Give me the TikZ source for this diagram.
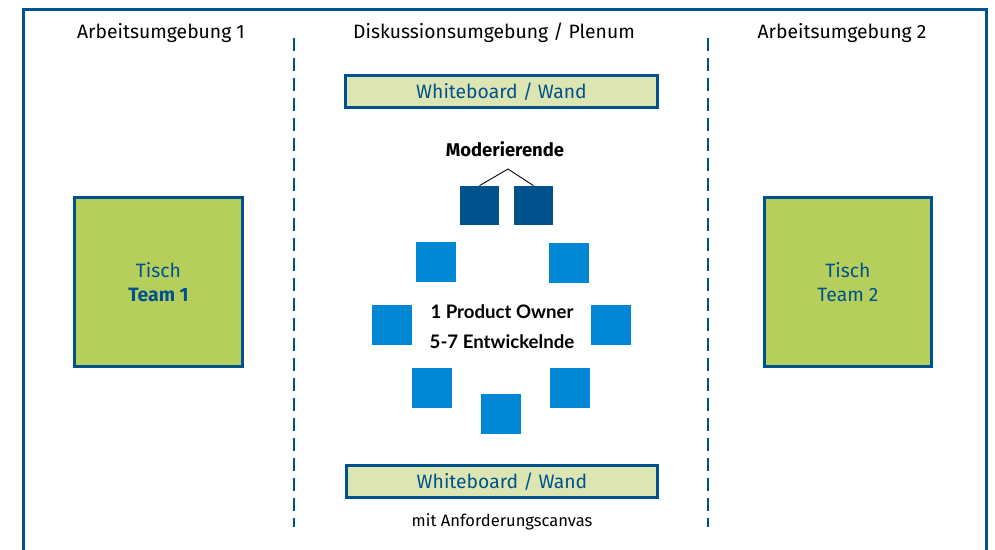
\documentclass[tikz,border=0pt]{standalone}
\usepackage{fontspec}
\setmainfont{Fira Sans}
\newfontfamily\roundfont{Lato}
\usetikzlibrary{positioning}

\definecolor{frameblue}{HTML}{00528C}
\definecolor{tablegreen}{HTML}{B6CE5B}
\definecolor{boardgreen}{HTML}{DDE6B3}
\definecolor{modblue}{HTML}{00528C}
\definecolor{seatblue}{HTML}{0088D6}

\begin{document}
\begin{tikzpicture}[
    x=0.02cm, y=-0.02cm,
    frame/.style={draw=frameblue, line width=1.7pt},
    divider/.style={draw=frameblue, line width=1.7pt, dash pattern=on 0.26cm off 0.14cm},
    heading/.style={font=\fontsize{11}{13}\selectfont},
    table/.style={rectangle, draw=frameblue, line width=1.7pt, fill=tablegreen, minimum width=3.36cm, minimum height=3.38cm, text=frameblue, align=center, font=\fontsize{11}{14}\selectfont},
    board/.style={rectangle, draw=frameblue, line width=1.7pt, fill=boardgreen, minimum width=6.24cm, minimum height=0.64cm, text=frameblue, font=\fontsize{11}{13}\selectfont},
    modseat/.style={rectangle, fill=modblue, minimum size=0.78cm, inner sep=0pt},
    seat/.style={rectangle, fill=seatblue, minimum size=0.8cm, inner sep=0pt}
]
\clip (0,0) rectangle (995,550);

% Room frame (open at the bottom)
\draw[frame] (23.5,9.5) rectangle (986.5,600);

% Dividers
\draw[divider] (294,38) -- (294,527);
\draw[divider] (708,38) -- (708,527);

% Headings
\node[heading] (env1) at (161,33) {Arbeitsumgebung 1};
\node[heading] (plenum) at (494,33) {Diskussionsumgebung / Plenum};
\node[heading] (env2) at (842,33) {Arbeitsumgebung 2};

% Tables
\node[table] (table1) at (158.5,282) {Tisch\\\textbf{Team 1}};
\node[table] (table2) at (848,282) {Tisch\\Team 2};

% Whiteboards
\node[board] (boardtop) at (501.5,91.5) {Whiteboard / Wand};
\node[board] (boardbottom) at (502,481.5) {Whiteboard / Wand};
\node[font=\fontsize{9.4}{11}\selectfont, below=0.16cm of boardbottom] (canvas) {mit Anforderungscanvas};

% Moderators
\node[font=\bfseries\fontsize{10.5}{12}\selectfont] (modlabel) at (505,149) {Moderierende};
\node[modseat] (mod1) at (479.5,205.5) {};
\node[modseat] (mod2) at (533.5,205.5) {};
\coordinate (apex) at (508,169);
\draw[black, line width=0.5pt] (mod1.north) -- (apex) -- (mod2.north);

% Scrum team seats
\node[seat] (seat1) at (436,262) {};
\node[seat] (seat2) at (569,263) {};
\node[seat] (seat3) at (392,325) {};
\node[seat] (seat4) at (611,325) {};
\node[seat] (seat5) at (432,388) {};
\node[seat] (seat6) at (570,388) {};
\node[seat] (seat7) at (501,414) {};

% Team description
\node[font=\roundfont\bfseries\fontsize{10.6}{17}\selectfont, align=center] (team) at (502,327) {1 Product Owner\\5-7 Entwickelnde};
\end{tikzpicture}
\end{document}
